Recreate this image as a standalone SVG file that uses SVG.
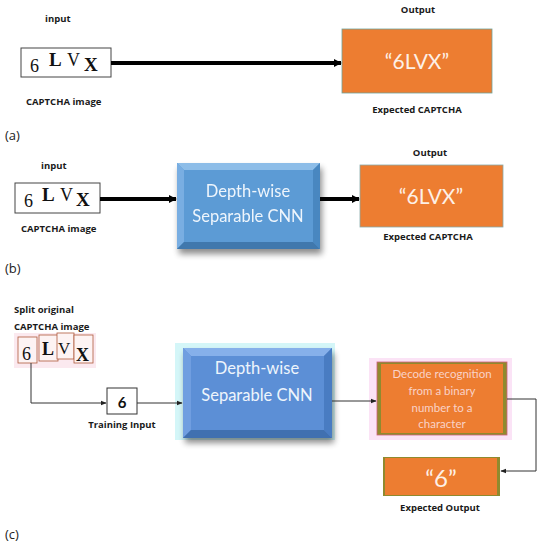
<svg xmlns="http://www.w3.org/2000/svg" width="542" height="550" viewBox="0 0 542 550">
<defs>
<style>
.lbl{font-family:"Open Sans","Liberation Sans",sans-serif;font-weight:bold;font-size:9.5px;fill:#1a1a1a}
.tag{font-family:"Open Sans","Liberation Sans",sans-serif;font-size:13px;fill:#222}
.cap{font-family:"Liberation Serif",serif;fill:#111}
.org{fill:#ED7D31}
.big{font-family:Lato,"Open Sans",sans-serif;fill:#fdf0e6;text-anchor:middle}
.cnn{font-family:Lato,"Open Sans",sans-serif;fill:#eef5fc;font-size:16.5px;text-anchor:middle}
.thick{stroke:#000;stroke-width:4;fill:none}
.thin{stroke:#333;stroke-width:1;fill:none}
</style>
<filter id="sh" x="-20%" y="-20%" width="140%" height="150%">
<feGaussianBlur in="SourceAlpha" stdDeviation="3"/>
<feOffset dx="2" dy="5"/>
<feComponentTransfer><feFuncA type="linear" slope="0.45"/></feComponentTransfer>
<feMerge><feMergeNode/><feMergeNode in="SourceGraphic"/></feMerge>
</filter>
<marker id="ah" viewBox="0 0 10 10" refX="9" refY="5" markerWidth="2" markerHeight="2" orient="auto"><path d="M0,0L10,5L0,10z" fill="#000"/></marker>
<marker id="as" viewBox="0 0 10 10" refX="9" refY="5" markerWidth="6" markerHeight="6" orient="auto"><path d="M0,1L10,5L0,9z" fill="#222"/></marker>
</defs>
<rect width="542" height="550" fill="#fff"/>

<!-- (a) -->
<g id="a-input">
<text class="lbl" x="45" y="22">input</text>
<rect x="21" y="48" width="90" height="29" fill="#fff" stroke="#444" stroke-width="1"/>
<text class="cap" x="30" y="72" font-size="18">6</text>
<text class="cap" x="49" y="66" font-size="19" font-weight="bold">L</text>
<text class="cap" x="67" y="66" font-size="18">V</text>
<text class="cap" x="84" y="71" font-size="19" font-weight="bold">X</text>
<text class="lbl" x="26" y="105">CAPTCHA image</text>
</g>
<g id="a-output">
<text class="lbl" x="418" y="13" text-anchor="middle">Output</text>
<rect class="org" x="342" y="29" width="150" height="64" stroke="#6fa39b" stroke-width="0.8"/>
<text class="big" x="417" y="69" font-size="21">“6LVX”</text>
<text class="lbl" x="417" y="113" text-anchor="middle">Expected CAPTCHA</text>
</g>
<text class="tag" x="5" y="140">(a)</text>

<!-- (b) -->
<g id="b-input">
<text class="lbl" x="41" y="169">input</text>
<rect x="15" y="183" width="85" height="30" fill="#fff" stroke="#444" stroke-width="1"/>
<text class="cap" x="24" y="207" font-size="18">6</text>
<text class="cap" x="42" y="201" font-size="19" font-weight="bold">L</text>
<text class="cap" x="60" y="201" font-size="18">V</text>
<text class="cap" x="76" y="206" font-size="19" font-weight="bold">X</text>
<text class="lbl" x="21" y="232">CAPTCHA image</text>
</g>
<g id="b-cnn" filter="url(#sh)">
<rect x="177" y="163" width="143" height="86" fill="#5B9BD5"/>
<polygon points="177,163 320,163 313,170 184,170" fill="#8dbde8"/>
<polygon points="177,163 184,170 184,242 177,249" fill="#79aee2"/>
<polygon points="320,163 320,249 313,242 313,170" fill="#4a87c0"/>
<polygon points="177,249 320,249 313,242 184,242" fill="#3f78ad"/>
<text class="cnn" x="248" y="197">Depth-wise</text>
<text class="cnn" x="248" y="222">Separable CNN</text>
</g>
<g id="b-output">
<text class="lbl" x="430" y="156" text-anchor="middle">Output</text>
<rect class="org" x="360" y="165" width="143" height="62" stroke="#8aa" stroke-width="0.8"/>
<text class="big" x="431" y="204" font-size="21">“6LVX”</text>
<text class="lbl" x="428" y="240" text-anchor="middle">Expected CAPTCHA</text>
</g>
<text class="tag" x="5" y="273">(b)</text>

<!-- (c) -->
<g id="c-split">
<text class="lbl" x="14" y="313" font-size="10">Split original</text>
<text class="lbl" x="14" y="330" font-size="10">CAPTCHA image</text>
<rect x="14" y="333" width="82" height="35" fill="#fbe9ef"/>
<rect x="18" y="337" width="19" height="26" fill="#fdf3f3" stroke="#b05a3c" stroke-width="0.8"/>
<rect x="39" y="335" width="19" height="26" fill="#fdf3f3" stroke="#b05a3c" stroke-width="0.8"/>
<rect x="57" y="333" width="17" height="26" fill="#fdf3f3" stroke="#b05a3c" stroke-width="0.8"/>
<rect x="74" y="335" width="19" height="28" fill="#fdf3f3" stroke="#b05a3c" stroke-width="0.8"/>
<text class="cap" x="22" y="360" font-size="18" fill="#3a1020">6</text>
<text class="cap" x="42" y="355" font-size="18" font-weight="bold" fill="#3a1020">L</text>
<text class="cap" x="58" y="354" font-size="17" fill="#3a1020">V</text>
<text class="cap" x="76" y="361" font-size="18" font-weight="bold" fill="#3a1020">X</text>
</g>
<g id="c-train">
<rect x="107" y="388" width="30" height="26" fill="#fff" stroke="#333" stroke-width="1"/>
<text x="122" y="408" text-anchor="middle" font-family="Lato,'Open Sans',sans-serif" font-weight="bold" font-size="15" fill="#111">6</text>
<text class="lbl" x="122" y="428" text-anchor="middle">Training Input</text>
</g>
<g id="c-cnn">
<rect x="175" y="343" width="160" height="97" fill="#d4f6f8"/>
<g filter="url(#sh)">
<rect x="183" y="348" width="149" height="90" fill="#5B8FD6"/>
<polygon points="183,348 332,348 324,356 191,356" fill="#86b0ea"/>
<polygon points="183,348 191,356 191,430 183,438" fill="#6f9ee0"/>
<polygon points="332,348 332,438 324,430 324,356" fill="#4a7cc2"/>
<polygon points="183,438 332,438 324,430 191,430" fill="#3f6fb0"/>
</g>
<text class="cnn" x="257" y="374" fill="#e6f6fb">Depth-wise</text>
<text class="cnn" x="257" y="401" fill="#e6f6fb">Separable CNN</text>
</g>
<g id="c-decode">
<rect x="369" y="358" width="143" height="82" fill="#fbe3f6"/>
<rect x="377" y="362" width="130" height="73" fill="#8f8a2e" stroke="#d0607a" stroke-width="0.8"/>
<rect x="381" y="364" width="122" height="69" class="org"/>
<g font-family="Lato,'Open Sans',sans-serif" font-size="11.5" fill="#f9d2c8" text-anchor="middle">
<text x="442" y="378">Decode recognition</text>
<text x="442" y="395">from a binary</text>
<text x="442" y="412">number to a</text>
<text x="442" y="428">character</text>
</g>
</g>
<g id="c-output">
<rect x="383" y="457" width="117" height="39" fill="#8f8a2e"/>
<rect x="385" y="458" width="112" height="37" class="org"/>
<text class="big" x="441" y="487" font-size="24">“6”</text>
<text class="lbl" x="440" y="511" text-anchor="middle">Expected Output</text>
</g>
<text class="tag" x="5" y="539">(c)</text>

<g id="connectors">
<line class="thick" x1="111" y1="63" x2="341" y2="63" marker-end="url(#ah)"/>
<line class="thick" x1="100" y1="199" x2="176" y2="199" marker-end="url(#ah)"/>
<line class="thick" x1="320" y1="199" x2="359" y2="199" marker-end="url(#ah)"/>
<polyline class="thin" points="31,363 31,403 106,403" marker-end="url(#as)"/>
<line class="thin" x1="137" y1="403" x2="182" y2="403" marker-end="url(#as)"/>
<line class="thin" x1="332" y1="401" x2="376" y2="401" marker-end="url(#as)"/>
<polyline class="thin" points="507,399 536,399 536,471 501,471" marker-end="url(#as)"/>
</g>
</svg>
